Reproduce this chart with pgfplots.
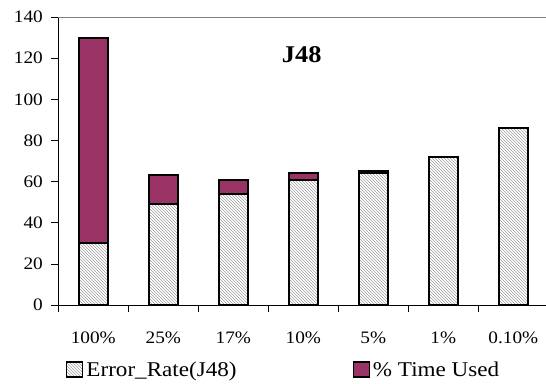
\documentclass[border=0pt]{standalone}
\usepackage{pgfplots}
\pgfplotsset{compat=1.18}
\usepackage{fontspec}
\setmainfont{Liberation Serif}[FakeStretch=1.1]
\usetikzlibrary{patterns}
\definecolor{timecol}{HTML}{993366}
\begin{document}
\begin{tikzpicture}
\useasboundingbox (0,0) rectangle (546pt,383pt);
\begin{axis}[
  at={(58.3pt,78pt)}, anchor=south west,
  scale only axis, width=487.7pt, height=288pt,
  ybar stacked, bar width=28.7pt,
  xmin=-0.5, xmax=6.467, ymin=0, ymax=140,
  axis x line*=bottom, axis y line*=left,
  axis line style={-, black, line width=0.8pt},
  ytick={0,20,...,140},
  xtick={-0.5,0.5,...,5.5},
  xticklabels={100\%,25\%,17\%,10\%,5\%,1\%,0.10\%},
  tick align=outside, major tick length=7pt,
  tick style={black, line width=0.6pt},
  /pgf/number format/assume math mode=true,
  tick label style={font=\fontsize{17.5}{20}\selectfont},
  xticklabel style={xshift=35pt, yshift=-16pt},
  yticklabel style={xshift=-5pt},
  legend style={at={(axis description cs:0.4620,-0.2257)}, anchor=center, draw=none, fill=none,
    legend columns=2, font=\fontsize{21}{24}\selectfont,
    /tikz/every even column/.append style={column sep=114pt},
    nodes={inner sep=2pt}},
  clip=false,
]
\addplot[pattern=north west lines, pattern color=gray!75, draw=black, line width=2pt,
  legend image code/.code={\draw[pattern=north west lines, pattern color=gray!75, draw=black, line width=1.4pt] (0pt,-7pt) rectangle (16pt,8pt);}]
  coordinates {(0,30) (1,49) (2,54) (3,61) (4,64.2) (5,72) (6,86)};
\addlegendentry{\hspace{1pt}Error\_Rate(J48)}
\addplot[fill=timecol, draw=black, line width=2pt,
  legend image code/.code={\draw[fill=timecol, draw=black, line width=1.4pt] (0pt,-7pt) rectangle (16pt,8pt);}]
  coordinates {(0,100) (1,14) (2,7) (3,3) (4,0.8) (5,0) (6,0)};
\addlegendentry{\hspace{1pt}\% Time Used}
\end{axis}
\draw[gray, line width=0.8pt] (58.3pt,366pt) -- (546pt,366pt);
\node[font=\fontsize{24}{28}\selectfont\bfseries] at (301.7pt,328pt) {J48};
\end{tikzpicture}
\end{document}
